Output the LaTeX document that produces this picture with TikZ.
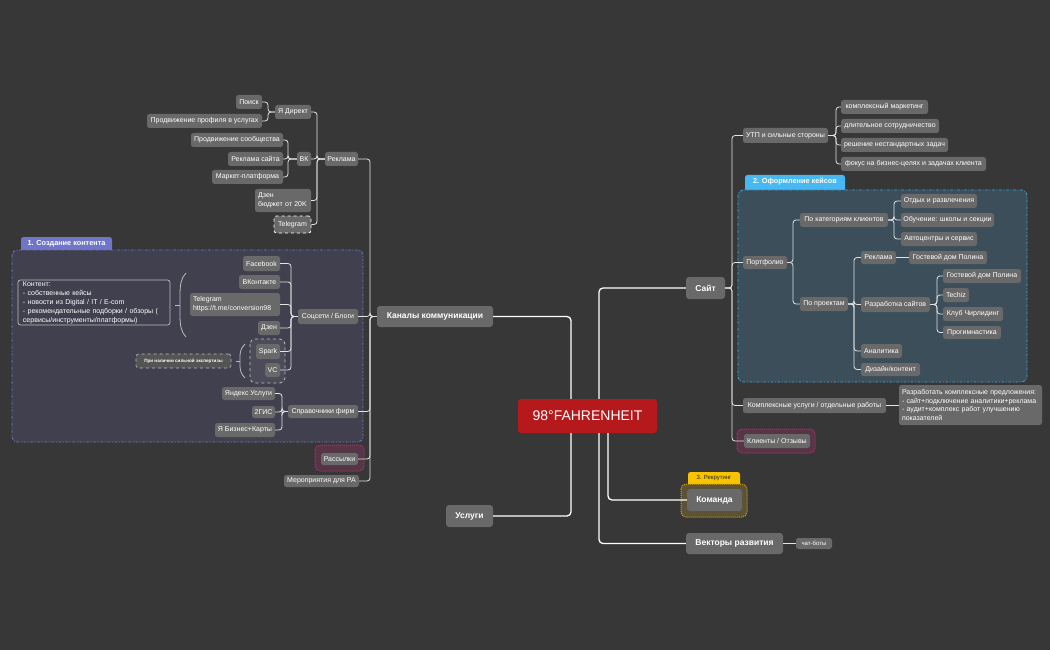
\documentclass[tikz,border=0pt]{standalone}
\usepackage{fontspec}
\setmainfont{Liberation Sans}
\definecolor{bg}{HTML}{373737}
\definecolor{ng}{HTML}{696969}
\definecolor{cred}{HTML}{B5191B}
\definecolor{gafill}{HTML}{41404F}
\definecolor{galine}{HTML}{6D77C2}
\definecolor{gatab}{HTML}{6F75C8}
\definecolor{gbfill}{HTML}{3B4E5A}
\definecolor{gbline}{HTML}{3EA6DC}
\definecolor{gbtab}{HTML}{48B8F2}
\definecolor{gcfill}{HTML}{5C5236}
\definecolor{gcline}{HTML}{D9A800}
\definecolor{gctab}{HTML}{F8C300}
\definecolor{pkfill}{HTML}{563546}
\definecolor{pkline}{HTML}{A8366F}
\definecolor{ln}{HTML}{E4E4E4}
\definecolor{brk}{HTML}{BDBDBD}
\newcommand\fsm{\fontsize{7}{9}\selectfont}
\newcommand\fmain{\bfseries\fontsize{8.5}{10}\selectfont}
\newcommand\mmnode[7][]{%
  \pgfmathsetmacro\mmcx{(#3+#5)/2}%
  \pgfmathsetmacro\mmcy{(#4+#6)/2}%
  \pgfmathsetmacro\mmw{#5-#3}%
  \pgfmathsetmacro\mmh{#6-#4}%
  \node[box,minimum width=\mmw pt,minimum height=\mmh pt,#1] (#2) at (\mmcx,\mmcy) {#7};}
\tikzset{
  box/.style={fill=ng, rounded corners=2.5pt, text=white, font=\fsm, inner sep=0pt, align=center},
  mainbox/.style={font=\fmain, rounded corners=3pt},
  conn/.style={draw=ln, line width=0.8pt, rounded corners=3pt},
  mconn/.style={draw=white, line width=1.3pt, rounded corners=4pt},
  tabtext/.style={text=white, font=\bfseries\fontsize{7.3}{9}\selectfont, inner sep=0pt},
  dashdotline/.style={dash pattern=on 3pt off 1.5pt on 1pt off 1.5pt, line width=0.8pt},
  brack/.style={draw=brk, line width=0.8pt},
}
\begin{document}
\begin{tikzpicture}[x=1pt,y=-1pt]
\useasboundingbox (0,0) rectangle (1050,650);
\fill[bg] (0,0) rectangle (1050,650);

% ---------- groups / boundaries ----------
\fill[gatab, rounded corners=2.5pt] (21,253) rectangle (112,237);
\node[tabtext] (tabA) at (66.5,243.5) {1. Создание контента};
\draw[galine, fill=gafill, dashdotline, rounded corners=5pt] (12,250) rectangle (363,442);

\fill[gbtab, rounded corners=2.5pt] (745,193) rectangle (845,175);
\node[tabtext] (tabB) at (795,182) {2. Оформление кейсов};
\draw[gbline, fill=gbfill, dashdotline, rounded corners=5pt] (738,190) rectangle (1027,382);

\fill[gctab, rounded corners=2.5pt] (688,487) rectangle (740,472);
\node[text=black!85, font=\fontsize{6}{7}\selectfont, inner sep=0pt] (tabC) at (714,478.5) {3. Рекрутинг};
\draw[gcline, fill=gcfill, densely dotted, line width=1pt, rounded corners=5pt] (681,484) rectangle (747,517);

\draw[pkline, fill=pkfill, densely dotted, line width=1pt, rounded corners=5pt] (315,445) rectangle (364,471);
\draw[pkline, fill=pkfill, densely dotted, line width=1pt, rounded corners=5pt] (737,429) rectangle (815,453);

\draw[brk, fill=black!100!white, fill opacity=0.0, dashed, line width=0.8pt, rounded corners=5pt] (250,339) rectangle (285,383);
\fill[white, opacity=0.06, rounded corners=5pt] (250,339) rectangle (285,383);

% ---------- spine coordinates ----------
\coordinate (cL) at (571,0);
\coordinate (cR) at (599,0);
\coordinate (cK) at (608,0);
\coordinate (sKan) at (370,0);
\coordinate (sRek) at (317,0);
\coordinate (sYd) at (268,0);
\coordinate (sVk) at (288,0);
\coordinate (sSoc) at (291,0);
\coordinate (sSpr) at (282,0);
\coordinate (sSait) at (732,0);
\coordinate (sUtp) at (836,0);
\coordinate (sPort) at (793,0);
\coordinate (sKat) at (894,0);
\coordinate (sPro) at (854,0);
\coordinate (sRaz) at (937,0);

% ---------- nodes ----------
\mmnode[fill=cred, font=\fontsize{14}{16}\selectfont, rounded corners=3pt]{ctr}{518}{399}{657}{433}{98°FAHRENHEIT}
\mmnode[mainbox]{kan}{377}{306}{493}{327}{Каналы коммуникации}
\mmnode[mainbox]{usl}{446}{505}{493}{527}{Услуги}
\mmnode[mainbox]{sait}{686}{277}{725}{299}{Сайт}
\mmnode[mainbox]{kom}{687}{489}{742}{511}{Команда}
\mmnode[mainbox]{vec}{686}{533}{783}{554}{Векторы развития}
\mmnode[font=\fontsize{6}{7}\selectfont]{chat}{796}{538}{832}{549}{чат-боты}

% left: Реклама
\mmnode{poisk}{236}{95}{262}{109}{Поиск}
\mmnode{prodprof}{147}{114}{262}{128}{Продвижение профиля в услугах}
\mmnode{ydir}{275}{105}{311}{119}{Я Директ}
\mmnode{prodsoob}{191}{133}{283}{147}{Продвижение сообщества}
\mmnode{reksite}{228}{152}{283}{166}{Реклама сайта}
\mmnode{market}{212}{170}{283}{184}{Маркет-платформа}
\mmnode{vk}{297}{152}{311}{166}{ВК}
\mmnode{reklama}{325}{152}{358}{166}{Реклама}
\mmnode[align=left, text width=50pt, inner xsep=3pt]{dzenA}{255}{189}{311}{212}{Дзен\\бюджет от 20K}
\mmnode[draw=white, dashed, line width=0.8pt]{tgA}{274}{216}{311}{233}{Telegram}

% left: Соцсети
\mmnode[fill=none, draw=brk, line width=0.7pt, align=left, text width=142pt, inner xsep=5pt, font=\fontsize{7}{9}\selectfont]{kont}{18}{280}{170}{325}{Контент:\\- собственные кейсы\\- новости из Digital / IT / E-com\\- рекомендательные подборки / обзоры (\\сервисы/инструменты/платформы)}
\mmnode{fb}{243}{256}{280}{271}{Facebook}
\mmnode{vkont}{239}{275}{280}{289}{ВКонтакте}
\mmnode[align=left, text width=84pt, inner xsep=3pt]{tgB}{190}{293}{280}{316}{Telegram\\https://t.me/conversion98}
\mmnode{dzenB}{258}{321}{280}{335}{Дзен}
\mmnode{spark}{256}{344}{280}{359}{Spark}
\mmnode{vc}{265}{363}{280}{377}{VC}
\mmnode[fill=ng!80!black, draw=brk, dashed, line width=0.6pt, font=\bfseries\fontsize{4.6}{5}\selectfont]{expert}{136}{354}{231}{368}{При наличии сильной экспертизы}
\mmnode{soc}{298}{309}{358}{324}{Соцсети / Блоги}

% left: Справочники
\mmnode{spr}{288}{405}{358}{418}{Справочники фирм}
\mmnode{yusl}{222}{387}{275}{400}{Яндекс Услуги}
\mmnode{gis}{252}{406}{275}{418}{2ГИС}
\mmnode{ybiz}{215}{423}{275}{437}{Я Бизнес+Карты}
\mmnode{rass}{321}{453}{358}{465}{Рассылки}
\mmnode{merop}{284}{475}{359}{487}{Мероприятия для РА}

% right: Сайт
\mmnode{utp}{743}{128}{828}{143}{УТП и сильные стороны}
\mmnode{uA}{841}{100}{928}{114}{комплексный маркетинг}
\mmnode{uB}{841}{119}{939}{133}{длительное сотрудничество}
\mmnode{uC}{841}{138}{948}{152}{решение нестандартных задач}
\mmnode{uD}{841}{157}{986}{171}{фокус на бизнес-целях и задачах клиента}
\mmnode{port}{743}{256}{787}{269}{Портфолио}
\mmnode{kat}{800}{213}{888}{227}{По категориям клиентов}
\mmnode{proj}{800}{297}{848}{311}{По проектам}
\mmnode{kA}{901}{194}{977}{208}{Отдых и развлечения}
\mmnode{kB}{901}{213}{994}{227}{Обучение: школы и секции}
\mmnode{kC}{901}{232}{977}{246}{Автоцентры и сервис}
\mmnode{prek}{861}{251}{896}{264}{Реклама}
\mmnode{gdA}{909}{251}{987}{264}{Гостевой дом Полина}
\mmnode{prz}{861}{297}{930}{312}{Разработка сайтов}
\mmnode{gdB}{943}{269}{1021}{283}{Гостевой дом Полина}
\mmnode{techiz}{943}{288}{969}{302}{Techiz}
\mmnode{cheer}{943}{307}{1003}{321}{Клуб Чирлидинг}
\mmnode{progym}{943}{326}{1001}{339}{Прогимнастика}
\mmnode{anal}{861}{344}{902}{358}{Аналитика}
\mmnode{dizain}{861}{363}{920}{376}{Дизайн/контент}
\mmnode{kompl}{743}{398}{886}{413}{Комплексные услуги / отдельные работы}
\mmnode[align=left, text width=137pt, inner xsep=3pt, font=\fontsize{7}{8.8}\selectfont]{razr}{899}{385}{1042}{425}{Разработать комплексные предложения:\\- сайт+подключение аналитики+реклама\\- аудит+комплекс работ улучшению\\показателей}
\mmnode{klient}{744}{434}{810}{448}{Клиенты / Отзывы}

% ---------- main connectors ----------
\draw[mconn] (kan.east) -| (ctr.north -| cL);
\draw[mconn] (usl.east) -| (ctr.south -| cL);
\draw[mconn] (ctr.north -| cR) |- (sait.west);
\draw[mconn] (ctr.south -| cR) |- (vec.west);
\draw[mconn] (ctr.south -| cK) |- (kom.west);

% ---------- left connectors ----------
\foreach \c in {reklama,soc,spr,rass,merop}
  \draw[conn] (kan.west) -- (kan.west -| sKan) |- (\c.east);
\foreach \c in {ydir,vk,dzenA,tgA}
  \draw[conn] (reklama.west) -- (reklama.west -| sRek) |- (\c.east);
\foreach \c in {poisk,prodprof}
  \draw[conn] (ydir.west) -- (ydir.west -| sYd) |- (\c.east);
\foreach \c in {prodsoob,reksite,market}
  \draw[conn] (vk.west) -- (vk.west -| sVk) |- (\c.east);
\foreach \c in {fb,vkont,tgB,dzenB,spark,vc}
  \draw[conn] (soc.west) -- (soc.west -| sSoc) |- (\c.east);
\foreach \c in {yusl,gis,ybiz}
  \draw[conn] (spr.west) -- (spr.west -| sSpr) |- (\c.east);

% summary brackets
\draw[brack] (186,273) .. controls (181,278) and (180,285) .. (180,295) -- (180,315) .. controls (180,325) and (181,332) .. (186,337);
\draw[brack] (180,305) -- (175,305);
\draw[brack] (245,344) .. controls (241,348) and (240,352) .. (240,356) -- (240,366) .. controls (240,370) and (241,374) .. (245,378);
\draw[brack] (240,361) -- (236,361);

% ---------- right connectors ----------
\foreach \c in {utp,port,kompl,klient}
  \draw[conn] (sait.east) -- (sait.east -| sSait) |- (\c.west);
\foreach \c in {uA,uB,uC,uD}
  \draw[conn] (utp.east) -- (utp.east -| sUtp) |- (\c.west);
\foreach \c in {kat,proj}
  \draw[conn] (port.east) -- (port.east -| sPort) |- (\c.west);
\foreach \c in {kA,kB,kC}
  \draw[conn] (kat.east) -- (kat.east -| sKat) |- (\c.west);
\foreach \c in {prek,prz,anal,dizain}
  \draw[conn] (proj.east) -- (proj.east -| sPro) |- (\c.west);
\foreach \c in {gdB,techiz,cheer,progym}
  \draw[conn] (prz.east) -- (prz.east -| sRaz) |- (\c.west);
\draw[conn] (prek.east) -- (gdA.west);
\draw[conn] (kompl.east) -- (kompl.east -| razr.west);
\draw[conn] (vec.east) -- (chat.west);
\end{tikzpicture}
\end{document}
